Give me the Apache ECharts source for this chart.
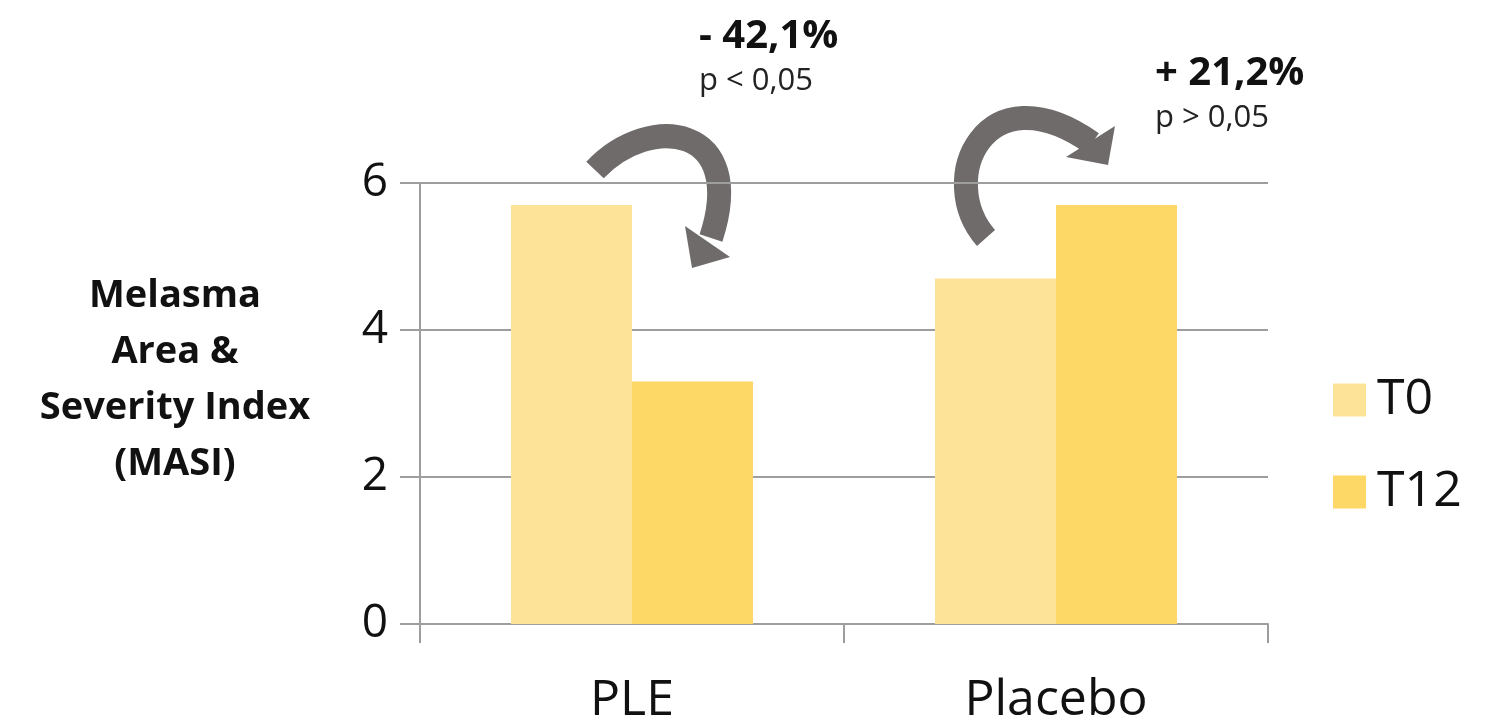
<!DOCTYPE html>
<html>
<head>
<meta charset="utf-8">
<script src="https://cdn.jsdelivr.net/npm/echarts@6/dist/echarts.min.js"></script>
<style>
  html, body { margin: 0; padding: 0; background: #fff; }
  #chart { width: 1499px; height: 724px; }
</style>
</head>
<body>
<div id="chart"></div>
<script>
// data
const categories = ['PLE', 'Placebo'];
const seriesNames = ['T0', 'T12'];
const t0Values = [5.7, 4.7];
const t12Values = [3.3, 5.7];
const yTicks = { min: 0, max: 6, interval: 2 };
const yTitle = 'Melasma\nArea &\nSeverity Index\n(MASI)';
const changeLabels = ['- 42,1%', '+ 21,2%'];
const pLabels = ['p < 0,05', 'p > 0,05'];

const colors = ['#fde397', '#fdd866'];
const arrowColor = '#6f6b6b';
const font = '"Open Sans", sans-serif';

const myChart = echarts.init(document.getElementById('chart'));

const option = {
  animation: false,
  color: colors,
  textStyle: { fontFamily: font },
  title: {
    text: yTitle,
    left: 170,
    top: 263,
    textAlign: 'center',
    textStyle: {
      fontFamily: font,
      fontWeight: 'bold',
      fontSize: 38,
      lineHeight: 56,
      color: '#111'
    }
  },
  legend: {
    orient: 'vertical',
    left: 1328,
    top: 370,
    itemWidth: 33,
    itemHeight: 33,
    itemGap: 42,
    icon: 'rect',
    data: seriesNames,
    textStyle: {
      fontFamily: font,
      fontSize: 50,
      lineHeight: 50,
      color: '#111',
      padding: [0, 0, 0, 6]
    }
  },
  grid: {
    left: 420,
    right: 231,
    top: 183,
    bottom: 100,
    containLabel: false,
    outerBoundsMode: 'none'
  },
  xAxis: {
    type: 'category',
    data: categories,
    axisLine: { lineStyle: { color: '#9e9e9e', width: 2 } },
    axisTick: { show: true, length: 19, lineStyle: { color: '#9e9e9e', width: 2 } },
    axisLabel: {
      margin: 52,
      fontSize: 50,
      color: '#111',
      fontFamily: font
    }
  },
  yAxis: {
    type: 'value',
    min: yTicks.min,
    max: yTicks.max,
    interval: yTicks.interval,
    axisLine: { show: true, lineStyle: { color: '#9e9e9e', width: 2 } },
    axisTick: { show: true, length: 20, lineStyle: { color: '#9e9e9e', width: 2 } },
    splitLine: { lineStyle: { color: '#9e9e9e', width: 2 } },
    axisLabel: {
      margin: 32,
      fontSize: 46,
      color: '#111',
      fontFamily: font
    }
  },
  series: [
    {
      name: seriesNames[0],
      type: 'bar',
      data: t0Values,
      barWidth: 121,
      barGap: '0%'
    },
    {
      name: seriesNames[1],
      type: 'bar',
      data: t12Values,
      barWidth: 121,
      barGap: '0%'
    }
  ],
  graphic: [
    // left arrow (down)
    {
      type: 'bezierCurve',
      shape: { x1: 595, y1: 170, cpx1: 650, cpy1: 112, cpx2: 748, cpy2: 125, x2: 711, y2: 238 },
      style: { stroke: arrowColor, lineWidth: 24, fill: null, lineCap: 'butt' }
    },
    {
      type: 'polygon',
      shape: { points: [[685, 226], [730, 257], [692, 268]] },
      style: { fill: arrowColor }
    },
    // right arrow (up and over)
    {
      type: 'bezierCurve',
      shape: { x1: 986, y1: 238, cpx1: 935, cpy1: 180, cpx2: 985, cpy2: 68, x2: 1092, y2: 143 },
      style: { stroke: arrowColor, lineWidth: 24, fill: null, lineCap: 'butt' }
    },
    {
      type: 'polygon',
      shape: { points: [[1115, 126], [1066, 157], [1108, 165]] },
      style: { fill: arrowColor }
    },
    {
      type: 'text',
      left: 699,
      top: 17,
      style: { text: changeLabels[0], font: 'bold 40px ' + font, fill: '#111' }
    },
    {
      type: 'text',
      left: 699,
      top: 66,
      style: { text: pLabels[0], font: '31px ' + font, fill: '#222' }
    },
    {
      type: 'text',
      left: 1155,
      top: 54,
      style: { text: changeLabels[1], font: 'bold 40px ' + font, fill: '#111' }
    },
    {
      type: 'text',
      left: 1155,
      top: 103,
      style: { text: pLabels[1], font: '31px ' + font, fill: '#222' }
    }
  ]
};

if (option && typeof option === 'object') {
  myChart.setOption(option);
}
window.addEventListener('resize', myChart.resize);
</script>
</body>
</html>
